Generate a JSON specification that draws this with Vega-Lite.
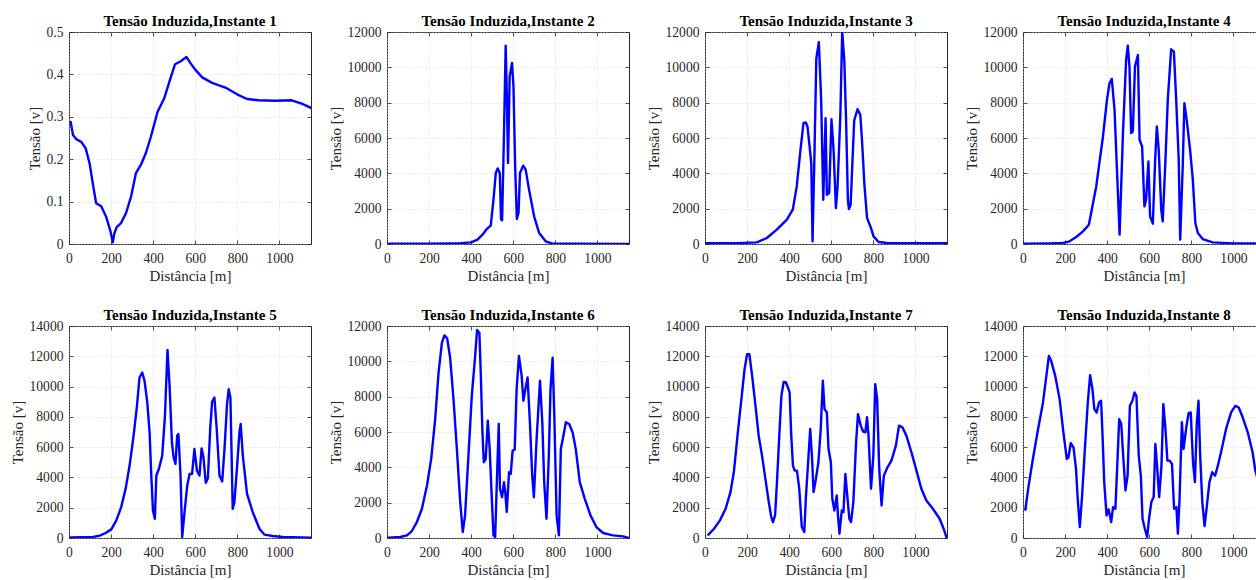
{
  "$schema": "https://vega.github.io/schema/vega-lite/v6.json",
  "padding": {"left": 9, "top": 13, "right": 5, "bottom": 5},
  "bounds": "flush",
  "columns": 4,
  "spacing": {"row": 82, "column": 76},
  "datasets": {
    "p1": [{"x":8,"v":0.288},{"x":19,"v":0.257},{"x":35,"v":0.247},{"x":58,"v":0.241},{"x":79,"v":0.226},{"x":98,"v":0.19},{"x":113,"v":0.143},{"x":129,"v":0.096},{"x":153,"v":0.089},{"x":176,"v":0.065},{"x":197,"v":0.03},{"x":208,"v":0.004},{"x":216,"v":0.026},{"x":227,"v":0.04},{"x":247,"v":0.049},{"x":271,"v":0.073},{"x":295,"v":0.112},{"x":318,"v":0.167},{"x":342,"v":0.187},{"x":365,"v":0.214},{"x":389,"v":0.253},{"x":421,"v":0.312},{"x":452,"v":0.343},{"x":479,"v":0.386},{"x":504,"v":0.424},{"x":531,"v":0.431},{"x":558,"v":0.441},{"x":578,"v":0.426},{"x":602,"v":0.41},{"x":633,"v":0.393},{"x":680,"v":0.38},{"x":743,"v":0.369},{"x":799,"v":0.353},{"x":846,"v":0.342},{"x":901,"v":0.339},{"x":980,"v":0.338},{"x":1058,"v":0.339},{"x":1106,"v":0.331},{"x":1150,"v":0.321}],
    "p2": [{"x":10,"v":20},{"x":100,"v":20},{"x":200,"v":22},{"x":300,"v":30},{"x":350,"v":45},{"x":400,"v":94},{"x":430,"v":245},{"x":454,"v":528},{"x":474,"v":850},{"x":493,"v":1038},{"x":506,"v":2510},{"x":517,"v":4020},{"x":526,"v":4280},{"x":536,"v":4020},{"x":542,"v":1380},{"x":547,"v":1340},{"x":556,"v":6280},{"x":564,"v":11230},{"x":570,"v":8150},{"x":575,"v":4585},{"x":583,"v":9490},{"x":594,"v":10250},{"x":601,"v":8925},{"x":609,"v":4400},{"x":617,"v":1415},{"x":625,"v":1755},{"x":632,"v":4020},{"x":647,"v":4435},{"x":659,"v":4210},{"x":675,"v":3075},{"x":699,"v":1566},{"x":723,"v":623},{"x":754,"v":150},{"x":786,"v":20},{"x":900,"v":10},{"x":1150,"v":5}],
    "p3": [{"x":8,"v":40},{"x":150,"v":50},{"x":246,"v":94},{"x":294,"v":340},{"x":341,"v":810},{"x":389,"v":1375},{"x":417,"v":1940},{"x":436,"v":3260},{"x":452,"v":5140},{"x":468,"v":6840},{"x":479,"v":6880},{"x":487,"v":6650},{"x":497,"v":5520},{"x":505,"v":4580},{"x":511,"v":150},{"x":519,"v":4390},{"x":529,"v":10510},{"x":541,"v":11420},{"x":552,"v":8160},{"x":562,"v":2500},{"x":573,"v":7120},{"x":579,"v":2790},{"x":590,"v":2880},{"x":601,"v":7060},{"x":611,"v":5330},{"x":622,"v":2030},{"x":630,"v":3260},{"x":643,"v":7210},{"x":652,"v":12000},{"x":662,"v":10400},{"x":670,"v":7210},{"x":679,"v":2500},{"x":684,"v":1980},{"x":692,"v":2220},{"x":709,"v":6990},{"x":725,"v":7630},{"x":738,"v":7310},{"x":746,"v":5900},{"x":757,"v":3450},{"x":770,"v":1470},{"x":786,"v":1000},{"x":801,"v":430},{"x":825,"v":110},{"x":865,"v":56},{"x":1150,"v":40}],
    "p4": [{"x":8,"v":19},{"x":127,"v":38},{"x":190,"v":57},{"x":221,"v":150},{"x":253,"v":396},{"x":285,"v":716},{"x":313,"v":1093},{"x":348,"v":3260},{"x":380,"v":6085},{"x":399,"v":8158},{"x":411,"v":9100},{"x":422,"v":9345},{"x":435,"v":7593},{"x":451,"v":2883},{"x":459,"v":528},{"x":475,"v":6274},{"x":490,"v":10420},{"x":498,"v":11230},{"x":506,"v":10040},{"x":514,"v":6274},{"x":522,"v":6370},{"x":532,"v":10040},{"x":546,"v":10700},{"x":554,"v":5900},{"x":566,"v":5520},{"x":577,"v":2130},{"x":585,"v":2505},{"x":596,"v":4670},{"x":604,"v":1564},{"x":617,"v":1150},{"x":628,"v":4770},{"x":636,"v":6650},{"x":645,"v":5330},{"x":657,"v":1940},{"x":664,"v":1280},{"x":677,"v":4770},{"x":688,"v":8160},{"x":704,"v":11020},{"x":717,"v":10890},{"x":728,"v":8160},{"x":740,"v":4770},{"x":747,"v":245},{"x":759,"v":4390},{"x":767,"v":7970},{"x":778,"v":7030},{"x":794,"v":5330},{"x":807,"v":3640},{"x":819,"v":1190},{"x":831,"v":620},{"x":854,"v":280},{"x":902,"v":94},{"x":997,"v":38},{"x":1150,"v":20}],
    "p5": [{"x":8,"v":44},{"x":114,"v":66},{"x":146,"v":154},{"x":174,"v":329},{"x":201,"v":570},{"x":225,"v":1163},{"x":248,"v":2040},{"x":269,"v":3247},{"x":288,"v":4783},{"x":307,"v":6757},{"x":323,"v":8732},{"x":335,"v":10600},{"x":348,"v":10930},{"x":359,"v":10380},{"x":372,"v":8950},{"x":383,"v":6980},{"x":391,"v":4125},{"x":399,"v":1820},{"x":408,"v":1270},{"x":415,"v":4125},{"x":427,"v":4560},{"x":443,"v":5440},{"x":456,"v":8070},{"x":468,"v":12420},{"x":478,"v":10050},{"x":489,"v":6320},{"x":497,"v":5330},{"x":506,"v":4890},{"x":514,"v":6760},{"x":520,"v":6870},{"x":530,"v":4125},{"x":538,"v":66},{"x":549,"v":1710},{"x":562,"v":3470},{"x":573,"v":4230},{"x":585,"v":4230},{"x":596,"v":5880},{"x":608,"v":4450},{"x":620,"v":4125},{"x":630,"v":5920},{"x":639,"v":5330},{"x":650,"v":3640},{"x":660,"v":3950},{"x":671,"v":7200},{"x":680,"v":9000},{"x":691,"v":9280},{"x":702,"v":7200},{"x":715,"v":4125},{"x":728,"v":3730},{"x":739,"v":5880},{"x":751,"v":8850},{"x":759,"v":9830},{"x":767,"v":9280},{"x":778,"v":1930},{"x":786,"v":2370},{"x":799,"v":4780},{"x":810,"v":6980},{"x":816,"v":7530},{"x":826,"v":5440},{"x":846,"v":2920},{"x":873,"v":1710},{"x":905,"v":614},{"x":929,"v":219},{"x":968,"v":132},{"x":1016,"v":66},{"x":1150,"v":22}],
    "p6": [{"x":8,"v":19},{"x":63,"v":56},{"x":95,"v":150},{"x":118,"v":395},{"x":142,"v":903},{"x":166,"v":1655},{"x":190,"v":2972},{"x":210,"v":4477},{"x":229,"v":6734},{"x":245,"v":9367},{"x":261,"v":11060},{"x":273,"v":11470},{"x":286,"v":11290},{"x":300,"v":10210},{"x":316,"v":7860},{"x":332,"v":5040},{"x":348,"v":2030},{"x":360,"v":339},{"x":371,"v":1280},{"x":387,"v":4665},{"x":403,"v":8050},{"x":419,"v":10310},{"x":428,"v":11780},{"x":439,"v":11620},{"x":446,"v":9180},{"x":453,"v":6170},{"x":460,"v":4290},{"x":469,"v":4480},{"x":479,"v":6640},{"x":488,"v":5040},{"x":496,"v":2780},{"x":506,"v":150},{"x":514,"v":56},{"x":521,"v":2780},{"x":531,"v":6450},{"x":537,"v":2780},{"x":547,"v":2310},{"x":556,"v":3160},{"x":562,"v":2600},{"x":569,"v":1470},{"x":580,"v":3720},{"x":588,"v":3630},{"x":597,"v":4950},{"x":607,"v":5000},{"x":616,"v":8430},{"x":627,"v":10310},{"x":640,"v":9180},{"x":648,"v":7770},{"x":659,"v":8520},{"x":668,"v":9085},{"x":679,"v":6550},{"x":690,"v":3540},{"x":698,"v":2310},{"x":711,"v":5600},{"x":727,"v":8900},{"x":738,"v":6550},{"x":747,"v":3160},{"x":758,"v":1090},{"x":769,"v":4665},{"x":777,"v":8430},{"x":787,"v":10210},{"x":795,"v":6920},{"x":806,"v":1280},{"x":817,"v":150},{"x":826,"v":5040},{"x":837,"v":5700},{"x":850,"v":6550},{"x":866,"v":6450},{"x":882,"v":5980},{"x":897,"v":5040},{"x":916,"v":3160},{"x":940,"v":2220},{"x":967,"v":1280},{"x":995,"v":620},{"x":1027,"v":282},{"x":1074,"v":150},{"x":1122,"v":94},{"x":1148,"v":0}],
    "p7": [{"x":16,"v":219},{"x":43,"v":614},{"x":71,"v":1163},{"x":98,"v":1930},{"x":121,"v":3030},{"x":137,"v":4340},{"x":156,"v":6980},{"x":173,"v":9170},{"x":188,"v":11150},{"x":200,"v":12130},{"x":211,"v":12130},{"x":224,"v":10710},{"x":240,"v":8730},{"x":255,"v":6760},{"x":271,"v":5440},{"x":287,"v":3900},{"x":303,"v":2370},{"x":315,"v":1380},{"x":323,"v":1050},{"x":333,"v":1490},{"x":342,"v":3690},{"x":353,"v":6760},{"x":363,"v":9390},{"x":374,"v":10310},{"x":385,"v":10270},{"x":394,"v":9940},{"x":402,"v":9610},{"x":410,"v":6760},{"x":418,"v":4780},{"x":426,"v":4450},{"x":437,"v":4450},{"x":448,"v":3250},{"x":460,"v":724},{"x":472,"v":395},{"x":479,"v":2590},{"x":489,"v":4780},{"x":500,"v":7200},{"x":508,"v":5440},{"x":516,"v":3030},{"x":527,"v":3900},{"x":539,"v":5000},{"x":550,"v":7200},{"x":560,"v":10380},{"x":568,"v":8510},{"x":579,"v":8290},{"x":587,"v":5880},{"x":598,"v":5000},{"x":605,"v":2590},{"x":615,"v":1820},{"x":626,"v":2810},{"x":632,"v":1490},{"x":639,"v":285},{"x":650,"v":1820},{"x":658,"v":1710},{"x":667,"v":4230},{"x":676,"v":2810},{"x":686,"v":1270},{"x":694,"v":1050},{"x":705,"v":2370},{"x":718,"v":6320},{"x":727,"v":8180},{"x":740,"v":7420},{"x":752,"v":7020},{"x":762,"v":6980},{"x":770,"v":7970},{"x":777,"v":6760},{"x":789,"v":3250},{"x":800,"v":5440},{"x":809,"v":10160},{"x":818,"v":9170},{"x":828,"v":4560},{"x":839,"v":2150},{"x":850,"v":4120},{"x":867,"v":4670},{"x":886,"v":5110},{"x":907,"v":6100},{"x":922,"v":7420},{"x":938,"v":7310},{"x":957,"v":6760},{"x":981,"v":5660},{"x":1005,"v":4450},{"x":1028,"v":3250},{"x":1052,"v":2480},{"x":1083,"v":1930},{"x":1115,"v":1270},{"x":1134,"v":614},{"x":1147,"v":66}],
    "p8": [{"x":11,"v":1865},{"x":27,"v":3470},{"x":47,"v":5220},{"x":69,"v":6980},{"x":95,"v":8950},{"x":114,"v":11040},{"x":123,"v":12020},{"x":134,"v":11700},{"x":153,"v":10710},{"x":174,"v":9170},{"x":192,"v":6980},{"x":208,"v":5220},{"x":216,"v":5330},{"x":227,"v":6270},{"x":240,"v":5990},{"x":252,"v":4560},{"x":260,"v":2590},{"x":270,"v":724},{"x":281,"v":2810},{"x":295,"v":6100},{"x":308,"v":8950},{"x":319,"v":10750},{"x":330,"v":9830},{"x":339,"v":8510},{"x":350,"v":8290},{"x":361,"v":8950},{"x":371,"v":9060},{"x":378,"v":6760},{"x":386,"v":3690},{"x":397,"v":1490},{"x":407,"v":1890},{"x":419,"v":1050},{"x":428,"v":2040},{"x":439,"v":1930},{"x":448,"v":4780},{"x":457,"v":7850},{"x":467,"v":7530},{"x":476,"v":5440},{"x":487,"v":3140},{"x":497,"v":4120},{"x":508,"v":8730},{"x":520,"v":9060},{"x":530,"v":9610},{"x":539,"v":9390},{"x":550,"v":5440},{"x":560,"v":4120},{"x":568,"v":1270},{"x":579,"v":614},{"x":590,"v":66},{"x":599,"v":1270},{"x":610,"v":2370},{"x":621,"v":2700},{"x":629,"v":6210},{"x":637,"v":4780},{"x":647,"v":2700},{"x":658,"v":4780},{"x":667,"v":8840},{"x":677,"v":7200},{"x":686,"v":5110},{"x":697,"v":5110},{"x":708,"v":4890},{"x":718,"v":1930},{"x":729,"v":2040},{"x":736,"v":285},{"x":744,"v":2590},{"x":755,"v":7640},{"x":763,"v":5880},{"x":776,"v":7310},{"x":787,"v":8250},{"x":797,"v":8290},{"x":808,"v":5000},{"x":817,"v":3690},{"x":826,"v":7640},{"x":834,"v":9060},{"x":842,"v":5440},{"x":852,"v":2370},{"x":863,"v":790},{"x":874,"v":2150},{"x":886,"v":3690},{"x":899,"v":4340},{"x":913,"v":4120},{"x":926,"v":4780},{"x":941,"v":5660},{"x":965,"v":7200},{"x":989,"v":8290},{"x":1009,"v":8730},{"x":1025,"v":8620},{"x":1044,"v":7970},{"x":1068,"v":6980},{"x":1091,"v":5660},{"x":1104,"v":4450},{"x":1128,"v":3300},{"x":1150,"v":2500}]
  },
  "concat": [
    {"title": "Tensão Induzida,Instante 1", "width": 242, "height": 212, "data": {"name": "p1"},
     "layer": [
      {"mark": {"type": "line", "stroke": "#0000ff", "strokeWidth": 2.4, "strokeJoin": "round", "strokeCap": "round", "clip": true},
       "encoding": {"x": {"field": "x", "type": "quantitative", "scale": {"domain": [0, 1150], "nice": false}, "axis": {"title": "Distância [m]", "values": [0,200,400,600,800,1000]}},
                    "y": {"field": "v", "type": "quantitative", "scale": {"domain": [0, 0.5], "nice": false}, "axis": {"title": "Tensão [v]", "format": "~g", "values": [0,0.1,0.2,0.3,0.4,0.5]}}}},
      {"mark": {"type": "line", "opacity": 0},
       "encoding": {"x": {"field": "x", "type": "quantitative", "axis": {"orient": "top", "labels": false, "title": null, "grid": false, "values": [0,200,400,600,800,1000]}},
                    "y": {"field": "v", "type": "quantitative", "axis": {"orient": "right", "labels": false, "title": null, "grid": false, "values": [0,0.1,0.2,0.3,0.4,0.5]}}}}
     ],
     "resolve": {"axis": {"x": "independent", "y": "independent"}}},
    {"title": "Tensão Induzida,Instante 2", "width": 242, "height": 212, "data": {"name": "p2"},
     "layer": [
      {"mark": {"type": "line", "stroke": "#0000ff", "strokeWidth": 2.4, "strokeJoin": "round", "strokeCap": "round", "clip": true},
       "encoding": {"x": {"field": "x", "type": "quantitative", "scale": {"domain": [0, 1150], "nice": false}, "axis": {"title": "Distância [m]", "values": [0,200,400,600,800,1000]}},
                    "y": {"field": "v", "type": "quantitative", "scale": {"domain": [0, 12000], "nice": false}, "axis": {"title": "Tensão [v]", "values": [0,2000,4000,6000,8000,10000,12000]}}}},
      {"mark": {"type": "line", "opacity": 0},
       "encoding": {"x": {"field": "x", "type": "quantitative", "axis": {"orient": "top", "labels": false, "title": null, "grid": false, "values": [0,200,400,600,800,1000]}},
                    "y": {"field": "v", "type": "quantitative", "axis": {"orient": "right", "labels": false, "title": null, "grid": false, "values": [0,2000,4000,6000,8000,10000,12000]}}}}
     ],
     "resolve": {"axis": {"x": "independent", "y": "independent"}}},
    {"title": "Tensão Induzida,Instante 3", "width": 242, "height": 212, "data": {"name": "p3"},
     "layer": [
      {"mark": {"type": "line", "stroke": "#0000ff", "strokeWidth": 2.4, "strokeJoin": "round", "strokeCap": "round", "clip": true},
       "encoding": {"x": {"field": "x", "type": "quantitative", "scale": {"domain": [0, 1150], "nice": false}, "axis": {"title": "Distância [m]", "values": [0,200,400,600,800,1000]}},
                    "y": {"field": "v", "type": "quantitative", "scale": {"domain": [0, 12000], "nice": false}, "axis": {"title": "Tensão [v]", "values": [0,2000,4000,6000,8000,10000,12000]}}}},
      {"mark": {"type": "line", "opacity": 0},
       "encoding": {"x": {"field": "x", "type": "quantitative", "axis": {"orient": "top", "labels": false, "title": null, "grid": false, "values": [0,200,400,600,800,1000]}},
                    "y": {"field": "v", "type": "quantitative", "axis": {"orient": "right", "labels": false, "title": null, "grid": false, "values": [0,2000,4000,6000,8000,10000,12000]}}}}
     ],
     "resolve": {"axis": {"x": "independent", "y": "independent"}}},
    {"title": "Tensão Induzida,Instante 4", "width": 242, "height": 212, "data": {"name": "p4"},
     "layer": [
      {"mark": {"type": "line", "stroke": "#0000ff", "strokeWidth": 2.4, "strokeJoin": "round", "strokeCap": "round", "clip": true},
       "encoding": {"x": {"field": "x", "type": "quantitative", "scale": {"domain": [0, 1150], "nice": false}, "axis": {"title": "Distância [m]", "values": [0,200,400,600,800,1000]}},
                    "y": {"field": "v", "type": "quantitative", "scale": {"domain": [0, 12000], "nice": false}, "axis": {"title": "Tensão [v]", "values": [0,2000,4000,6000,8000,10000,12000]}}}},
      {"mark": {"type": "line", "opacity": 0},
       "encoding": {"x": {"field": "x", "type": "quantitative", "axis": {"orient": "top", "labels": false, "title": null, "grid": false, "values": [0,200,400,600,800,1000]}},
                    "y": {"field": "v", "type": "quantitative", "axis": {"orient": "right", "labels": false, "title": null, "grid": false, "values": [0,2000,4000,6000,8000,10000,12000]}}}}
     ],
     "resolve": {"axis": {"x": "independent", "y": "independent"}}},
    {"title": "Tensão Induzida,Instante 5", "width": 242, "height": 212, "data": {"name": "p5"},
     "layer": [
      {"mark": {"type": "line", "stroke": "#0000ff", "strokeWidth": 2.4, "strokeJoin": "round", "strokeCap": "round", "clip": true},
       "encoding": {"x": {"field": "x", "type": "quantitative", "scale": {"domain": [0, 1150], "nice": false}, "axis": {"title": "Distância [m]", "values": [0,200,400,600,800,1000]}},
                    "y": {"field": "v", "type": "quantitative", "scale": {"domain": [0, 14000], "nice": false}, "axis": {"title": "Tensão [v]", "values": [0,2000,4000,6000,8000,10000,12000,14000]}}}},
      {"mark": {"type": "line", "opacity": 0},
       "encoding": {"x": {"field": "x", "type": "quantitative", "axis": {"orient": "top", "labels": false, "title": null, "grid": false, "values": [0,200,400,600,800,1000]}},
                    "y": {"field": "v", "type": "quantitative", "axis": {"orient": "right", "labels": false, "title": null, "grid": false, "values": [0,2000,4000,6000,8000,10000,12000,14000]}}}}
     ],
     "resolve": {"axis": {"x": "independent", "y": "independent"}}},
    {"title": "Tensão Induzida,Instante 6", "width": 242, "height": 212, "data": {"name": "p6"},
     "layer": [
      {"mark": {"type": "line", "stroke": "#0000ff", "strokeWidth": 2.4, "strokeJoin": "round", "strokeCap": "round", "clip": true},
       "encoding": {"x": {"field": "x", "type": "quantitative", "scale": {"domain": [0, 1150], "nice": false}, "axis": {"title": "Distância [m]", "values": [0,200,400,600,800,1000]}},
                    "y": {"field": "v", "type": "quantitative", "scale": {"domain": [0, 12000], "nice": false}, "axis": {"title": "Tensão [v]", "values": [0,2000,4000,6000,8000,10000,12000]}}}},
      {"mark": {"type": "line", "opacity": 0},
       "encoding": {"x": {"field": "x", "type": "quantitative", "axis": {"orient": "top", "labels": false, "title": null, "grid": false, "values": [0,200,400,600,800,1000]}},
                    "y": {"field": "v", "type": "quantitative", "axis": {"orient": "right", "labels": false, "title": null, "grid": false, "values": [0,2000,4000,6000,8000,10000,12000]}}}}
     ],
     "resolve": {"axis": {"x": "independent", "y": "independent"}}},
    {"title": "Tensão Induzida,Instante 7", "width": 242, "height": 212, "data": {"name": "p7"},
     "layer": [
      {"mark": {"type": "line", "stroke": "#0000ff", "strokeWidth": 2.4, "strokeJoin": "round", "strokeCap": "round", "clip": true},
       "encoding": {"x": {"field": "x", "type": "quantitative", "scale": {"domain": [0, 1150], "nice": false}, "axis": {"title": "Distância [m]", "values": [0,200,400,600,800,1000]}},
                    "y": {"field": "v", "type": "quantitative", "scale": {"domain": [0, 14000], "nice": false}, "axis": {"title": "Tensão [v]", "values": [0,2000,4000,6000,8000,10000,12000,14000]}}}},
      {"mark": {"type": "line", "opacity": 0},
       "encoding": {"x": {"field": "x", "type": "quantitative", "axis": {"orient": "top", "labels": false, "title": null, "grid": false, "values": [0,200,400,600,800,1000]}},
                    "y": {"field": "v", "type": "quantitative", "axis": {"orient": "right", "labels": false, "title": null, "grid": false, "values": [0,2000,4000,6000,8000,10000,12000,14000]}}}}
     ],
     "resolve": {"axis": {"x": "independent", "y": "independent"}}},
    {"title": "Tensão Induzida,Instante 8", "width": 242, "height": 212, "data": {"name": "p8"},
     "layer": [
      {"mark": {"type": "line", "stroke": "#0000ff", "strokeWidth": 2.4, "strokeJoin": "round", "strokeCap": "round", "clip": true},
       "encoding": {"x": {"field": "x", "type": "quantitative", "scale": {"domain": [0, 1150], "nice": false}, "axis": {"title": "Distância [m]", "values": [0,200,400,600,800,1000]}},
                    "y": {"field": "v", "type": "quantitative", "scale": {"domain": [0, 14000], "nice": false}, "axis": {"title": "Tensão [v]", "values": [0,2000,4000,6000,8000,10000,12000,14000]}}}},
      {"mark": {"type": "line", "opacity": 0},
       "encoding": {"x": {"field": "x", "type": "quantitative", "axis": {"orient": "top", "labels": false, "title": null, "grid": false, "values": [0,200,400,600,800,1000]}},
                    "y": {"field": "v", "type": "quantitative", "axis": {"orient": "right", "labels": false, "title": null, "grid": false, "values": [0,2000,4000,6000,8000,10000,12000,14000]}}}}
     ],
     "resolve": {"axis": {"x": "independent", "y": "independent"}}}
  ],
  "config": {
    "background": "#ffffff",
    "view": {"stroke": "#262626", "strokeWidth": 1},
    "axis": {"labelFont": "Liberation Serif", "labelFontSize": 13.6, "labelColor": "#262626", "titleFont": "Liberation Serif", "titleFontSize": 15, "titleFontWeight": "normal", "titleColor": "#262626", "domain": false, "tickColor": "#262626", "tickSize": -4, "tickWidth": 0.8, "grid": true, "gridColor": "#d4d4d4", "gridDash": [1, 2], "gridWidth": 0.8, "format": "d", "labelFlush": false, "labelOverlap": false},
    "axisX": {"labelPadding": 11, "titlePadding": 4},
    "axisY": {"labelPadding": 10, "titlePadding": 4},
    "title": {"font": "Liberation Serif", "fontSize": 15, "fontWeight": "bold", "color": "#000000", "anchor": "middle", "offset": -4}
  }
}
